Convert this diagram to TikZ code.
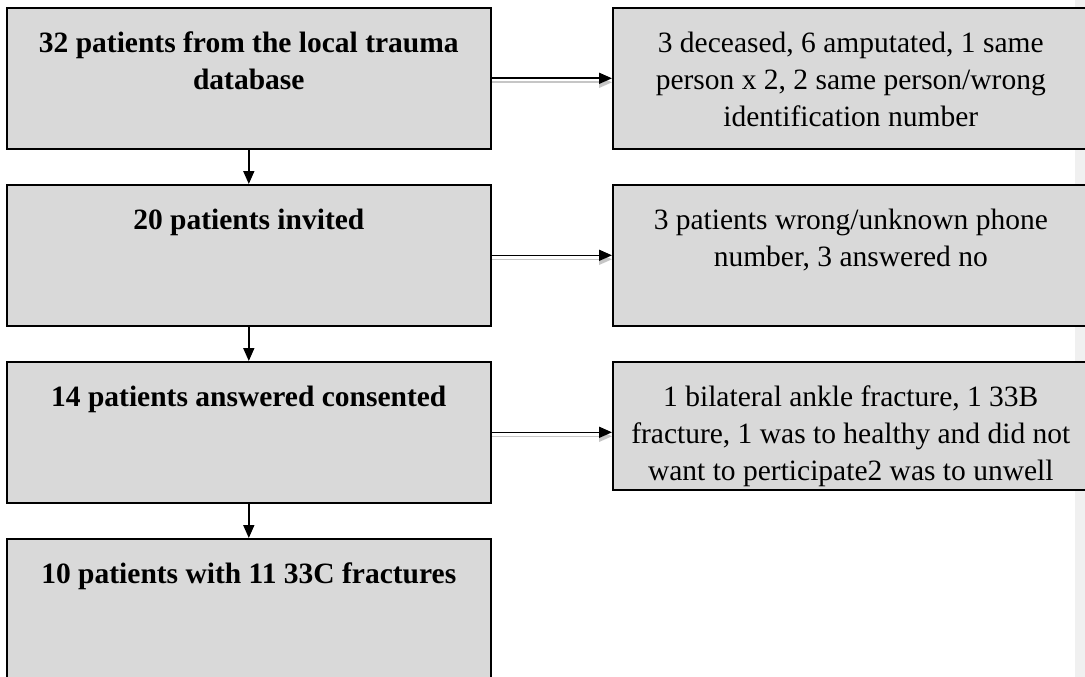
\documentclass[tikz,border=0pt]{standalone}
\usepackage{fontspec}
\setmainfont{Liberation Serif}
\usepackage{xcolor}
\usetikzlibrary{arrows.meta,positioning,calc,backgrounds}
\definecolor{boxgray}{HTML}{D9D9D9}
\definecolor{shadowgray}{HTML}{C6C6C6}
\definecolor{stripgray}{HTML}{F0F0F0}

\begin{document}
\begin{tikzpicture}[x=1pt,y=-1pt,
    flowbox/.style={draw=black, fill=boxgray, line width=1.6pt, rectangle, anchor=north west, inner sep=0pt},
    leftbox/.style={flowbox, minimum width=484pt, minimum height=141pt},
    boldtext/.style={align=center, inner sep=0pt, font=\fontsize{29.5}{37}\selectfont\bfseries},
    plaintext/.style={align=center, inner sep=0pt, font=\fontsize{29.5}{37}\selectfont},
    flowarrow/.style={-{Triangle[length=13pt,width=11pt]}, line width=1.6pt},
    shadowarrow/.style={flowarrow, draw=shadowgray, fill=shadowgray}]
    \useasboundingbox (0,0) rectangle (1085,677);
    % page edge on the right
    \fill[stripgray] (1075,0) rectangle (1085,677);

    % Left column
    \node[leftbox] (left1) at (6,7) {};
    \node[leftbox] (left2) at (6,184) {};
    \node[leftbox] (left3) at (6,361) {};
    \node[leftbox, minimum height=160pt] (left4) at (6,538) {};
    \node[boldtext, below=25pt of left1.north] (lt1) {32 patients from the local trauma\\database};
    \node[boldtext, below=25pt of left2.north] (lt2) {20 patients invited};
    \node[boldtext, below=25pt of left3.north] (lt3) {14 patients answered consented};
    \node[boldtext, below=25pt of left4.north] (lt4) {10 patients with 11 33C fractures};

    % Right column (excluded)
    \node[flowbox, minimum width=476pt, minimum height=141pt] (right1) at (612,7) {};
    \node[flowbox, minimum width=476pt, minimum height=141pt] (right2) at (612,184) {};
    \node[flowbox, minimum width=476pt, minimum height=128pt] (right3) at (612,361) {};
    \node[plaintext, below=25pt of right1.north] (rt1) {3 deceased, 6 amputated, 1 same\\person x 2, 2 same person/wrong\\identification number};
    \node[plaintext, below=25pt of right2.north] (rt2) {3 patients wrong/unknown phone\\number, 3 answered no};
    \node[plaintext, below=25pt of right3.north] (rt3) {1 bilateral ankle fracture, 1 33B\\fracture, 1 was to healthy and did not\\want to perticipate2 was to unwell};

    % Arrows
    \draw[flowarrow] (left1.south) -- (left2.north);
    \draw[flowarrow] (left2.south) -- (left3.north);
    \draw[flowarrow] (left3.south) -- (left4.north);
    \draw[flowarrow] (left1.east) -- (right1.west);
    \draw[flowarrow] (left2.east) -- (right2.west);
    \draw[flowarrow] (left3.east) -- (left3.east -| right3.west);
    % arrow shadows
    \begin{scope}[on background layer]
        \draw[shadowarrow] ([yshift=-4pt]left1.east) -- ([yshift=-4pt]right1.west);
        \draw[shadowarrow] ([yshift=-4pt]left2.east) -- ([yshift=-4pt]right2.west);
        \draw[shadowarrow] ([yshift=-4pt]left3.east) -- ([yshift=-4pt]left3.east -| right3.west);
    \end{scope}
\end{tikzpicture}
\end{document}
